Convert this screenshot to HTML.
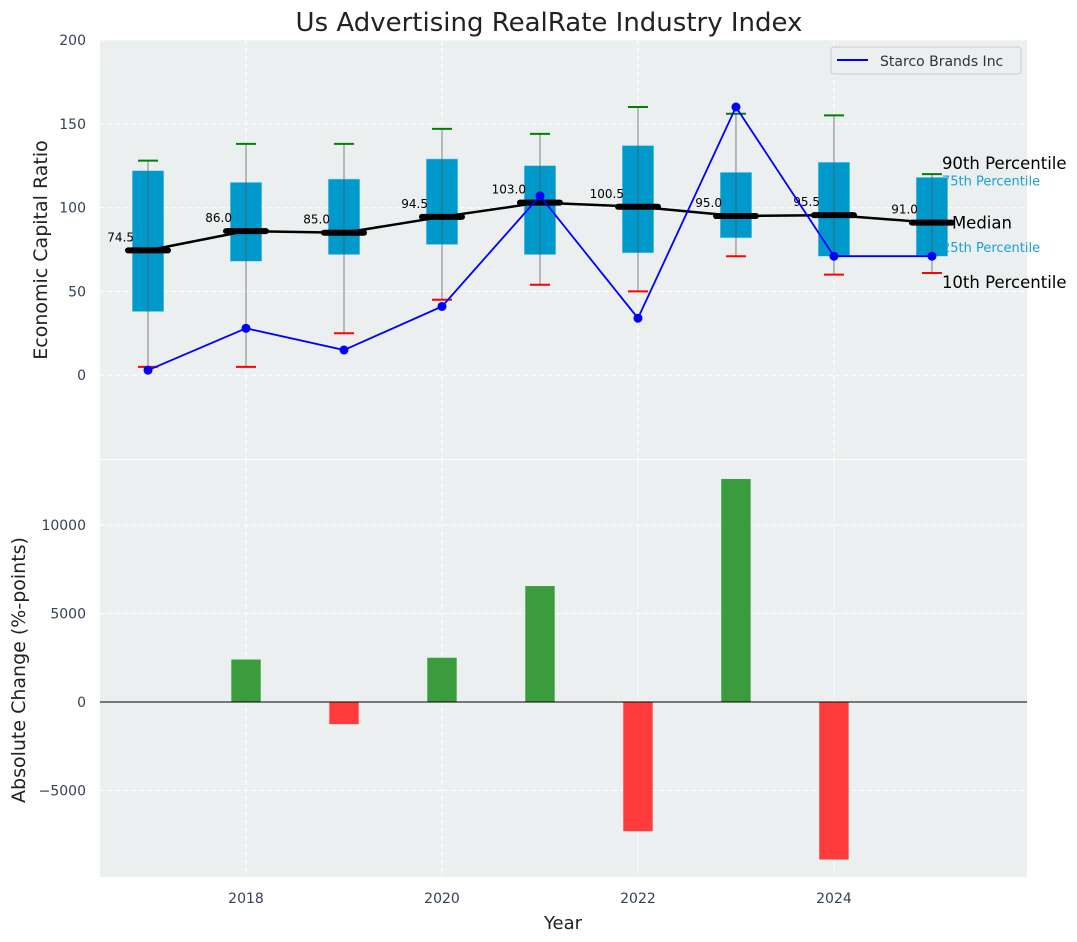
<!DOCTYPE html>
<html><head><meta charset="utf-8"><style>
body{margin:0;background:#fff}
svg{display:block;font-family:"DejaVu Sans","Liberation Sans",sans-serif}
</style></head><body>
<svg id="c" width="1077" height="942" xmlns="http://www.w3.org/2000/svg"></svg>
<script>
const years=[2017,2018,2019,2020,2021,2022,2023,2024,2025];
const p90=[128,138,138,147,144,160,156,155,120];
const q3=[122,115,117,129,125,137,121,127,118];
const med=[74.5,86.0,85.0,94.5,103.0,100.5,95.0,95.5,91.0];
const q1=[38,68,72,78,72,73,82,71,71];
const p10=[5,5,25,45,54,50,71,60,61];
const company=[3,28,15,41,107,34,160,71,71];
const changeYears=[2018,2019,2020,2021,2022,2023,2024];
const changes=[2400,-1250,2500,6550,-7300,12600,-8900];
const topTicks=[0,50,100,150,200];
const botTicks=[-5000,0,5000,10000];
const xTicks=[2018,2020,2022,2024];

const NS="http://www.w3.org/2000/svg";
const svg=document.getElementById('c');
function el(tag,attrs,parent){const e=document.createElementNS(NS,tag);for(const k in attrs)e.setAttribute(k,attrs[k]);(parent||svg).appendChild(e);return e;}
const L=100,R=1027,T1=40,B1=459,T2=460,B2=877;
const X=v=>L+(v-2016.51)/(2025.97-2016.51)*(R-L);
const Y1=v=>T1+(200-v)/250*(B1-T1);
const Y2=v=>T2+(13672-v)/(13672+9887)*(B2-T2);

let e;
e=el('rect',{x:L,y:T1,width:R-L,height:B1-T1,fill:'#ebeff0'});

e=el('rect',{x:L,y:T2,width:R-L,height:B2-T2,fill:'#ebeff0'});


xTicks.forEach(t=>{
  e=el('line',{x1:X(t),x2:X(t),y1:T1,y2:B1,stroke:'#fff','stroke-dasharray':'5,3','stroke-width':1});
  
  e=el('line',{x1:X(t),x2:X(t),y1:T2,y2:B2,stroke:'#fff','stroke-dasharray':'5,3','stroke-width':1});
  
  e=el('text',{x:X(t),y:B2+26,'text-anchor':'middle','font-size':14,fill:'#344256'});e.textContent=t;
  
});
topTicks.forEach(t=>{
  e=el('line',{x1:L,x2:R,y1:Y1(t),y2:Y1(t),stroke:'#fff','stroke-dasharray':'5,3','stroke-width':1});
  
  e=el('text',{x:86,y:Y1(t)+5,'text-anchor':'end','font-size':14,fill:'#344256'});e.textContent=t;
  
});
botTicks.forEach(t=>{
  e=el('line',{x1:L,x2:R,y1:Y2(t),y2:Y2(t),stroke:'#fff','stroke-dasharray':'5,3','stroke-width':1});
  
  e=el('text',{x:86,y:Y2(t)+5,'text-anchor':'end','font-size':14,fill:'#344256'});e.textContent=(t<0?'\u2212'+(-t):t);
  
});

const lx=X(2025)+10;
[['90th Percentile',Y1(p90[8])-5,16.5,'#000',0],['75th Percentile',Y1(q3[8])+8,13,'#1a9fd0',0],['Median',Y1(med[8])+6,16.5,'#000',10],['25th Percentile',Y1(q1[8])-4,13,'#1a9fd0',0],['10th Percentile',Y1(p10[8])+15,16.5,'#000',0]].forEach(d=>{
  e=el('text',{x:lx+d[4],y:d[1],'font-size':d[2],fill:d[3]});e.textContent=d[0];
  
});

const bw=0.32;
years.forEach((yr,i)=>{
  const cx=X(yr),hw=(X(yr+bw/2)-X(yr));
  e=el('rect',{x:cx-hw,y:Y1(q3[i]),width:2*hw,height:Y1(q1[i])-Y1(q3[i]),fill:'#0099cc',stroke:'#7fd0ea','stroke-width':0.5});
  
  e=el('line',{x1:cx,x2:cx,y1:Y1(p90[i]),y2:Y1(p10[i]),stroke:'#555','stroke-opacity':0.6,'stroke-width':1.2});
  
  e=el('line',{x1:cx-10,x2:cx+10,y1:Y1(p90[i]),y2:Y1(p90[i]),stroke:'green','stroke-width':2});
  
  e=el('line',{x1:cx-10,x2:cx+10,y1:Y1(p10[i]),y2:Y1(p10[i]),stroke:'red','stroke-width':2});
  
});
e=el('polyline',{points:years.map((y,i)=>X(y)+','+Y1(med[i])).join(' '),fill:'none',stroke:'#000','stroke-width':2.5});

years.forEach((yr,i)=>{
  const cx=X(yr);
  e=el('line',{x1:cx-20,x2:cx+20,y1:Y1(med[i]),y2:Y1(med[i]),stroke:'#000','stroke-width':6,'stroke-linecap':'round'});
  
  e=el('text',{x:cx-14,y:Y1(med[i])-9,'text-anchor':'end','font-size':12,fill:'#000'});e.textContent=med[i].toFixed(1);
  
});
e=el('polyline',{points:years.map((y,i)=>X(y)+','+Y1(company[i])).join(' '),fill:'none',stroke:'#0000ff','stroke-width':1.8});

years.forEach((yr,i)=>{
  e=el('circle',{cx:X(yr),cy:Y1(company[i]),r:4.5,fill:'#0000ff'});
  
});

e=el('rect',{x:831,y:47,width:190,height:27,rx:3,fill:'#eceef2',stroke:'#ccc'});

e=el('line',{x1:837,x2:868,y1:60,y2:60,stroke:'#0000ff','stroke-width':2});

e=el('text',{x:880,y:66,'font-size':14,fill:'#333'});e.textContent='Starco Brands Inc';


changeYears.forEach((yr,i)=>{
  const v=changes[i],x0=X(yr-0.15),x1=X(yr+0.15);
  e=el('rect',{x:x0,y:Math.min(Y2(v),Y2(0)),width:x1-x0,height:Math.abs(Y2(v)-Y2(0)),fill:v>=0?'#3a9c3d':'#ff3b3b'});
  
});
e=el('line',{x1:L,x2:R,y1:Y2(0),y2:Y2(0),stroke:'#000','stroke-width':1});


e=el('text',{x:549,y:31,'text-anchor':'middle','font-size':26,fill:'#222'});e.textContent='Us Advertising RealRate Industry Index';

e=el('text',{x:0,y:0,'text-anchor':'middle','font-size':19,fill:'#222',transform:'translate(47,250) rotate(-90)'});e.textContent='Economic Capital Ratio';

e=el('text',{x:0,y:0,'text-anchor':'middle','font-size':19,fill:'#222',transform:'translate(25,670) rotate(-90)'});e.textContent='Absolute Change (%-points)';

e=el('text',{x:563,y:929,'text-anchor':'middle','font-size':18,fill:'#222'});e.textContent='Year';

</script>
</body></html>
